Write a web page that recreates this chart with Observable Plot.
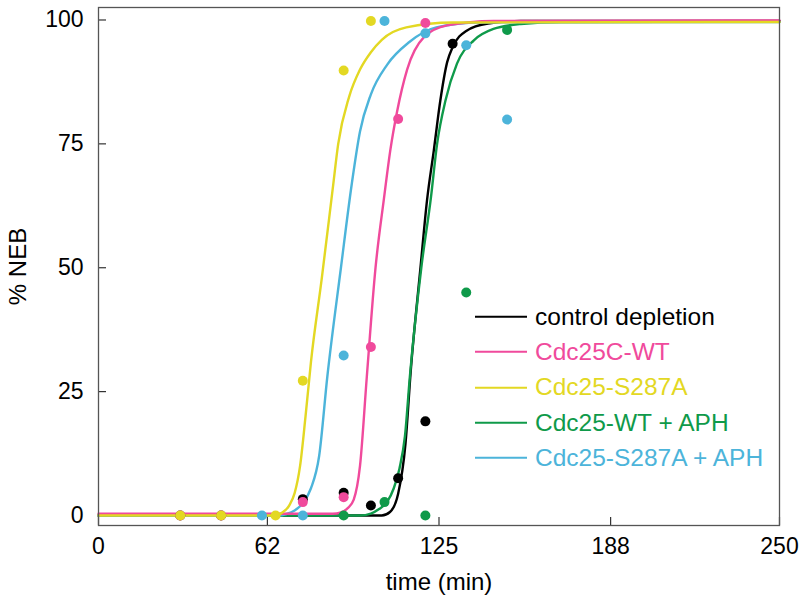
<!DOCTYPE html>
<html>
<head>
<meta charset="utf-8">
<script src="https://cdn.jsdelivr.net/npm/d3@7"></script>
<script src="https://cdn.jsdelivr.net/npm/@observablehq/plot@0.6"></script>
<style>
  html, body { margin: 0; padding: 0; background: #fff; }
  #wrap { position: relative; width: 800px; height: 595px; font-family: "Liberation Sans", Arial, Helvetica, sans-serif; }
  #wrap svg { display: block; }
  .lg-row { position: absolute; left: 475px; display: flex; align-items: center; transform: translateY(-50%); white-space: nowrap; }
  .lg-line { width: 52px; height: 2px; margin-right: 8px; }
  .lg-text { font-size: 24.5px; line-height: 1; }
</style>
</head>
<body>
<div id="wrap"></div>
<script>
// ---- series ----
const seriesNames = ["control depletion", "Cdc25C-WT", "Cdc25-S287A", "Cdc25-WT + APH", "Cdc25-S287A + APH"];
const seriesColors = ["#000000", "#f04a9c", "#e3d823", "#0f9a4a", "#4cb4da"];

// ---- tick labels ----
const xTicks = [0, 62, 125, 188, 250];
const yTicks = [0, 25, 50, 75, 100];

// ---- measured points (time in min, % NEB) ----
const blackPointT = [30, 45, 75, 90, 100, 110, 120, 130];
const blackPointV = [0, 0, 3.3, 4.6, 2, 7.5, 19, 95.2];
const pinkPointT = [30, 45, 75, 90, 100, 110, 120];
const pinkPointV = [0, 0, 2.7, 3.7, 34, 80, 99.4];
const yellowPointT = [30, 45, 65, 75, 90, 100];
const yellowPointV = [0, 0, 0, 27.2, 89.8, 99.8];
const greenPointT = [90, 105, 120, 135, 150];
const greenPointV = [0, 2.7, 0, 45, 98];
const cyanPointT = [60, 75, 90, 105, 120, 135, 150];
const cyanPointV = [0, 0, 32.3, 99.8, 97.3, 94.9, 79.9];

// ---- fitted curves ----
const blackCurveT = [0, 104, 107, 110, 112.7, 114.6, 118.2, 120.6, 123.1, 125.5, 128, 130, 135, 143, 155, 250];
const blackCurveV = [0, 0, 0.7, 4.4, 14.5, 29, 50, 63.6, 73.7, 83.8, 91.5, 94.5, 97.8, 99.3, 99.8, 99.8];
const greenCurveT = [0, 96, 100, 103, 106, 108.4, 110.5, 112.5, 114.3, 118.5, 122, 124.3, 127.4, 131.6, 137.8, 145, 155, 170, 250];
const greenCurveV = [0, 0, 0.4, 1.3, 2.8, 5.5, 9.5, 16, 28, 50, 64, 75, 83.8, 91.2, 95.9, 98.2, 99.2, 99.6, 99.7];
const pinkCurveT = [0, 86, 89, 91.5, 93.7, 96, 98.5, 101.7, 104.8, 107.2, 109.6, 113.3, 119.4, 128, 145, 250];
const pinkCurveV = [0.35, 0.35, 0.6, 1.5, 3.2, 10, 28, 50, 64, 74, 81.5, 90, 96.5, 98.9, 99.8, 99.9];
const yellowCurveT = [0, 65, 67.5, 70, 72, 74, 76, 78, 82, 86, 88, 92, 96, 100, 104, 113, 130, 250];
const yellowCurveV = [0, 0, 0.6, 2, 4.5, 10, 20, 31, 48, 66, 75, 84.5, 90, 93.5, 96, 98.5, 99.5, 99.6];
const cyanCurveT = [0, 66, 69, 72, 75, 78, 81, 84, 89, 93, 96, 100, 106, 114, 124, 140, 250];
const cyanCurveV = [0, 0, 0.3, 1, 2.5, 5.5, 12, 28, 50, 67, 77.5, 85, 91, 95.5, 98.5, 99.5, 99.6];

// ---- build tables ----
const curveT = [blackCurveT, pinkCurveT, yellowCurveT, greenCurveT, cyanCurveT];
const curveV = [blackCurveV, pinkCurveV, yellowCurveV, greenCurveV, cyanCurveV];
const pointT = [blackPointT, pinkPointT, yellowPointT, greenPointT, cyanPointT];
const pointV = [blackPointV, pinkPointV, yellowPointV, greenPointV, cyanPointV];

const curves = seriesNames.map((name, i) => curveT[i].map((t, j) => ({t, v: curveV[i][j], name})));
const points = seriesNames.map((name, i) => pointT[i].map((t, j) => ({t, v: pointV[i][j], name})));

const lineOrder = [0, 3, 4, 1, 2];   // black, green, cyan, pink, yellow
const dotOrder = [0, 3, 1, 4, 2];    // black, green, pink, cyan, yellow

const font = "Liberation Sans, Arial, Helvetica, sans-serif";

const chart = Plot.plot({
  width: 800,
  height: 595,
  marginLeft: 98,
  marginRight: 21,
  marginTop: 7,
  marginBottom: 70,
  style: {fontFamily: font, background: "#fff", color: "#000"},
  x: {domain: [0, 250]},
  y: {domain: [-2.02, 102.52]},
  color: {domain: seriesNames, range: seriesColors},
  marks: [
    Plot.axisX(xTicks, {tickSize: 0, tickPadding: 12, fontSize: 23, label: null}),
    Plot.axisY(yTicks, {tickSize: 0, tickPadding: 15, fontSize: 23, label: null}),
    Plot.tickX(xTicks, {x: d => d, insetTop: 510, stroke: "#333", strokeWidth: 1.2}),
    Plot.tickY(yTicks, {y: d => d, insetRight: 673, stroke: "#333", strokeWidth: 1.2}),
    ...lineOrder.map(i => Plot.line(curves[i], {x: "t", y: "v", stroke: seriesColors[i], strokeWidth: 2.4, curve: "monotone-x"})),
    ...dotOrder.map(i => Plot.dot(points[i], {x: "t", y: "v", r: 5, fill: seriesColors[i], stroke: "none"})),
    Plot.frame({stroke: "#555", strokeWidth: 1.3}),
    Plot.text(["time (min)"], {frameAnchor: "bottom", textAnchor: "middle", lineAnchor: "bottom", dy: 64, fontSize: 24, fontFamily: font}),
    Plot.text(["% NEB"], {frameAnchor: "left", textAnchor: "middle", lineAnchor: "middle", dx: -80, rotate: -90, fontSize: 24, fontFamily: font})
  ]
});

const wrap = document.getElementById("wrap");
wrap.appendChild(chart);

// ---- legend (inside the plot area) ----
const legendTop = 316.7, legendStep = 35.3;
seriesNames.forEach((name, i) => {
  const row = document.createElement("div");
  row.className = "lg-row";
  row.style.top = (legendTop + i * legendStep) + "px";
  const ln = document.createElement("div");
  ln.className = "lg-line";
  ln.style.background = seriesColors[i];
  const tx = document.createElement("span");
  tx.className = "lg-text";
  tx.style.color = seriesColors[i];
  tx.textContent = name;
  row.appendChild(ln);
  row.appendChild(tx);
  wrap.appendChild(row);
});
</script>
</body>
</html>
